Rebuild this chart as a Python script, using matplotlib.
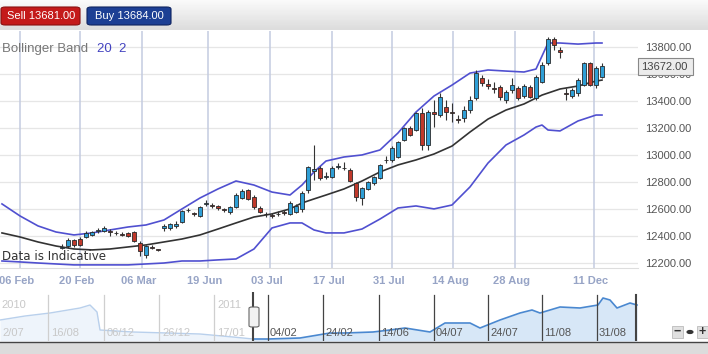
import numpy as np
import matplotlib
matplotlib.use("Agg")
import matplotlib.pyplot as plt
from matplotlib.patches import FancyBboxPatch, Rectangle
from matplotlib.colors import LinearSegmentedColormap
import matplotlib.transforms as mtransforms

plt.rcParams['font.family'] = ['Liberation Sans', 'DejaVu Sans']

# ---------------- data ----------------
opens = [12310, 12325, 12370, 12380, 12392, 12407, 12440, 12440, 12435, 12425,
         12415, 12420, 12430, 12350, 12260, 12318, 12300, 12460, 12455, 12475,
         12505, 12590, 12570, 12550, 12635, 12630, 12620, 12600, 12575, 12615,
         12680, 12740, 12690, 12610, 12565, 12555, 12560, 12575, 12565, 12580,
         12600, 12740, 12880, 12900, 12840, 12840, 12910, 12900, 12890, 12790,
         12680, 12750, 12790, 12830, 12960, 12963, 12985, 13111, 13200, 13185,
         13311, 13074, 13318, 13296, 13355, 13318, 13266, 13274, 13333, 13422,
         13570, 13526, 13500, 13504, 13407, 13480, 13496, 13437, 13504, 13422,
         13540, 13680, 13860, 13775, 13460, 13436, 13460, 13520, 13680, 13520,
         13580]
closes = [12320, 12370, 12330, 12335, 12422, 12430, 12445, 12460, 12428, 12420,
          12410, 12400, 12365, 12285, 12325, 12312, 12296, 12475, 12485, 12485,
          12585, 12595, 12560, 12615, 12645, 12625, 12610, 12590, 12615, 12705,
          12735, 12675, 12615, 12580, 12560, 12550, 12565, 12570, 12645, 12620,
          12720, 12910, 12895, 12830, 12845, 12900, 12915, 12905, 12810, 12690,
          12755, 12800, 12835, 12925, 12965, 13052, 13096, 13200, 13148, 13311,
          13074, 13318, 13305, 13430, 13318, 13310, 13260, 13333, 13407, 13607,
          13533, 13510, 13490, 13430, 13467, 13520, 13422, 13511, 13430, 13578,
          13667, 13860, 13815, 13765, 13452, 13481, 13555, 13680, 13520, 13645,
          13660]
highs = [12340, 12385, 12380, 12390, 12435, 12440, 12460, 12470, 12450, 12440,
         12430, 12430, 12440, 12360, 12335, 12330, 12305, 12490, 12495, 12510,
         12595, 12605, 12580, 12625, 12665, 12645, 12630, 12610, 12625, 12715,
         12745, 12750, 12700, 12620, 12580, 12570, 12585, 12595, 12660, 12635,
         12730, 12920, 13075, 12915, 12870, 12915, 12940, 12950, 12900, 12800,
         12765, 12810, 12845, 12935, 12990, 13065, 13105, 13210, 13215, 13320,
         13348, 13330, 13407, 13460, 13407, 13385, 13296, 13360, 13437, 13630,
         13590, 13560, 13540, 13520, 13480, 13570, 13510, 13525, 13515, 13590,
         13690, 13874, 13874, 13800, 13500, 13500, 13570, 13690, 13690, 13660,
         13680]
lows = [12300, 12310, 12320, 12325, 12385, 12400, 12425, 12430, 12400, 12405,
        12400, 12390, 12355, 12250, 12235, 12300, 12290, 12440, 12445, 12460,
        12495, 12580, 12545, 12540, 12620, 12610, 12595, 12580, 12565, 12605,
        12670, 12665, 12600, 12570, 12540, 12530, 12545, 12555, 12555, 12570,
        12580, 12720, 12815, 12815, 12820, 12830, 12895, 12885, 12800, 12660,
        12630, 12740, 12780, 12820, 12940, 12950, 12975, 13100, 13140, 13175,
        13037, 13037, 13207, 13280, 13260, 13245, 13237, 13245, 13310, 13407,
        13510, 13490, 13460, 13407, 13385, 13460, 13410, 13425, 13420, 13407,
        13530, 13670, 13780, 13720, 13407, 13420, 13440, 13510, 13510, 13500,
        13570]

band_idx = [-10, -7, -4, -1, 2, 5, 8, 11, 14, 17, 20, 23, 26, 29, 32, 35, 38, 40,
            42, 44, 47, 50, 53, 56, 59, 62, 65, 68, 71, 74, 77, 79, 80, 81, 83,
            86, 89, 90]
upper_band = [12637, 12548, 12474, 12429, 12407, 12422, 12444, 12466, 12481, 12518,
              12600, 12681, 12748, 12807, 12777, 12725, 12703, 12777, 12874, 12955,
              12985, 13000, 13037, 13163, 13318, 13437, 13518, 13607, 13630, 13622,
              13615, 13637, 13733, 13830, 13830, 13822, 13830, 13830]
middle_band = [12422, 12392, 12355, 12325, 12303, 12296, 12303, 12318, 12333, 12355,
               12377, 12407, 12451, 12496, 12540, 12563, 12600, 12644, 12674, 12703,
               12748, 12807, 12874, 12926, 12963, 13007, 13066, 13170, 13266, 13333,
               13378, 13422, 13444, 13459, 13489, 13511, 13548, 13555]
lower_band = [12214, 12207, 12199, 12192, 12185, 12185, 12185, 12185, 12192, 12199,
              12214, 12214, 12222, 12229, 12303, 12459, 12496, 12496, 12444, 12422,
              12422, 12451, 12525, 12607, 12622, 12600, 12629, 12763, 12940, 13074,
              13148, 13207, 13222, 13185, 13178, 13252, 13296, 13296]

x_tick_pos = [-7, 3, 13.33, 24.33, 34.67, 45, 55, 65.17, 75.5, 88.67]
x_tick_labels = ["06 Feb", "20 Feb", "06 Mar", "19 Jun", "03 Jul", "17 Jul",
                 "31 Jul", "14 Aug", "28 Aug", "11 Dec"]
y_ticks = [12200, 12400, 12600, 12800, 13000, 13200, 13400, 13600, 13800]

# navigator (overview) series
nav_old_t = [0, 25, 50, 80, 90, 97, 100, 133, 167, 200, 233, 253]
nav_old_v = [21, 25, 28, 33, 36, 29, 11, 9, 8, 7, 4, 2]
nav_new_t = [253, 268, 300, 330, 345, 373, 390, 405, 430, 445, 470, 480, 500, 520,
             532, 540, 560, 580, 598, 603, 610, 617, 630, 637]
nav_new_v = [2, 2, 3, 8, 8, 9, 11, 13, 9, 18, 18, 13, 21, 28, 31, 28, 34, 33, 36,
             43, 41, 33, 38, 36]
nav_old_lines = [48, 104, 159, 214]
nav_old_labels = ["16/08", "06/12", "26/12", "17/01"]
nav_new_lines = [268, 323, 379, 434, 488, 542, 597]
nav_new_labels = ["04/02", "24/02", "14/06", "04/07", "24/07", "11/08", "31/08"]

sell_price = "13681.00"
buy_price = "13684.00"
last_price = "13672.00"

# ---------------- figure ----------------
W, H = 708, 354
fig = plt.figure(figsize=(W / 100, H / 100), dpi=100)
fig.patch.set_facecolor('white')


def fx(x):
    return x / W


def fy(y):
    return 1 - y / H


# header bar with gradient
hax = fig.add_axes([0, fy(30), 1, 30 / H])
grad = np.linspace(0, 1, 30).reshape(-1, 1)
hcm = LinearSegmentedColormap.from_list('h', ['#fafafa', '#dddddd'])
hax.imshow(grad, aspect='auto', cmap=hcm, extent=[0, 1, 0, 1], origin='upper')
hax.axis('off')

fig.add_artist(FancyBboxPatch((fx(1), fy(25)), fx(80) - fx(1), fy(7) - fy(25),
                              boxstyle="round,pad=0,rounding_size=0.006",
                              transform=fig.transFigure, facecolor='#c41a1a',
                              edgecolor='#8a1010', lw=0.8))
fig.text(fx(41), fy(16), "Sell " + sell_price, color='white', fontsize=8,
         ha='center', va='center')
fig.add_artist(FancyBboxPatch((fx(87), fy(25)), fx(171) - fx(87), fy(7) - fy(25),
                              boxstyle="round,pad=0,rounding_size=0.006",
                              transform=fig.transFigure, facecolor='#1c3f94',
                              edgecolor='#0f2460', lw=0.8))
fig.text(fx(129), fy(16), "Buy " + buy_price, color='white', fontsize=8,
         ha='center', va='center')

# main chart axes
ax = fig.add_axes([0, fy(268), fx(638), (268 - 31) / H])
ax.set_xlim(-10.33, 96)
ax.set_ylim(12162, 13919)
for s in ['top', 'left', 'right']:
    ax.spines[s].set_visible(False)
ax.spines['bottom'].set_color('#dddddd')

for yv in y_ticks:
    ax.axhline(yv, color='#e6e6e6', lw=0.9, zorder=0)
for xv in x_tick_pos:
    ax.axvline(xv, color='#c3cbe0', lw=1.1, zorder=0)

ax.plot(band_idx, upper_band, color='#5050d0', lw=1.2, zorder=2)
ax.plot(band_idx, lower_band, color='#5050d0', lw=1.2, zorder=2)
ax.plot(band_idx, middle_band, color='#333333', lw=1.2, zorder=2)

idx = np.arange(len(opens))
o = np.array(opens)
c = np.array(closes)
ax.vlines(idx, lows, highs, color='#333333', lw=0.8, zorder=3)
cols = ['#2f9fd6' if cc >= oo else '#c0392b' for oo, cc in zip(o, c)]
ax.bar(idx, np.abs(c - o), bottom=np.minimum(o, c), width=0.7, color=cols,
       edgecolor='#2a2a2a', lw=0.6, zorder=4)

ax.yaxis.tick_right()
ax.set_yticks(y_ticks)
ax.set_yticklabels(["%.2f" % v for v in y_ticks])
ax.tick_params(axis='y', length=0, pad=5, labelsize=8, labelcolor='#555555')
ax.set_xticks(x_tick_pos)
ax.set_xticklabels(x_tick_labels)
ax.tick_params(axis='x', length=0, pad=6, labelsize=8, labelcolor='#97a4c6')
off = mtransforms.ScaledTranslation(-3 / 100, 0, fig.dpi_scale_trans)
for lab in ax.get_xticklabels():
    lab.set_fontweight('bold')
    lab.set_transform(lab.get_transform() + off)

fig.text(fx(2), fy(49), "Bollinger Band", color='#777777', fontsize=9.5,
         ha='left', va='center')
fig.text(fx(97), fy(49), "20  2", color='#4343c0', fontsize=9.5,
         ha='left', va='center')
fig.text(fx(2), fy(256), "Data is Indicative", color='#333333', fontsize=8.6,
         ha='left', va='center', family='DejaVu Sans')

# last price box
fig.add_artist(Rectangle((fx(638), fy(75)), fx(693) - fx(638), fy(58) - fy(75),
                         transform=fig.transFigure, facecolor='#ececec',
                         edgecolor='#888888', lw=0.8, zorder=5))
fig.text(fx(641), fy(66.5), last_price, color='#444444', fontsize=8,
         ha='left', va='center', zorder=6)

# navigator
nax = fig.add_axes([0, fy(341), fx(638), (341 - 292) / H])
nax.set_xlim(0, 638)
nax.set_ylim(0, 49)
nax.axis('off')
nax.fill_between(nav_old_t, nav_old_v, 0, color='#eef4fb', lw=0)
nax.plot(nav_old_t, nav_old_v, color='#b9d0ec', lw=1)
nax.fill_between(nav_new_t, nav_new_v, 0, color='#d7e7f7', lw=0)
nax.plot(nav_new_t, nav_new_v, color='#4a88d0', lw=1.2)
for xv, lb in zip(nav_old_lines, nav_old_labels):
    nax.plot([xv, xv], [0, 46], color='#cfcfcf', lw=0.9)
    nax.text(xv + 3, 8, lb, color='#c8c8c8', fontsize=8, ha='left', va='center')
for xv, lb in zip(nav_new_lines, nav_new_labels):
    nax.plot([xv, xv], [0, 46], color='#444444', lw=0.9)
    nax.text(xv + 2, 8, lb, color='#555555', fontsize=8, ha='left', va='center')
nax.text(2, 8, "2/07", color='#c8c8c8', fontsize=8, ha='left', va='center')
nax.text(1, 36, "2010", color='#c8c8c8', fontsize=8, ha='left', va='center')
nax.text(217, 36, "2011", color='#c8c8c8', fontsize=8, ha='left', va='center')
nax.plot([253, 253], [0, 48], color='#444444', lw=1.5)
nax.plot([636, 636], [0, 46], color='#444444', lw=1.5)
fig.add_artist(FancyBboxPatch((fx(249), fy(327)), fx(259) - fx(249), fy(307) - fy(327),
                              boxstyle="round,pad=0,rounding_size=0.004",
                              transform=fig.transFigure, facecolor='#f2f2f2',
                              edgecolor='#666666', lw=0.8))

# bottom bar
fig.add_artist(Rectangle((0, 0), 1, fy(342), transform=fig.transFigure,
                         facecolor='#dcdcdc', edgecolor='none'))
fig.add_artist(plt.Line2D([0, 1], [fy(342), fy(342)], transform=fig.transFigure,
                          color='#444444', lw=1))

# zoom controls
for x0, t in [(672, "−"), (697, "+")]:
    fig.add_artist(Rectangle((fx(x0), fy(338)), fx(11), fy(326) - fy(338),
                             transform=fig.transFigure, facecolor='#e0e0e0',
                             edgecolor='#bbbbbb', lw=0.6))
    fig.text(fx(x0 + 5.5), fy(332), t, fontsize=9, fontweight='bold',
             color='#333333', ha='center', va='center')
fig.add_artist(plt.Circle((fx(690), fy(332)), 0.004, transform=fig.transFigure,
                          color='#333333'))

fig.savefig("out.png", dpi=100)
